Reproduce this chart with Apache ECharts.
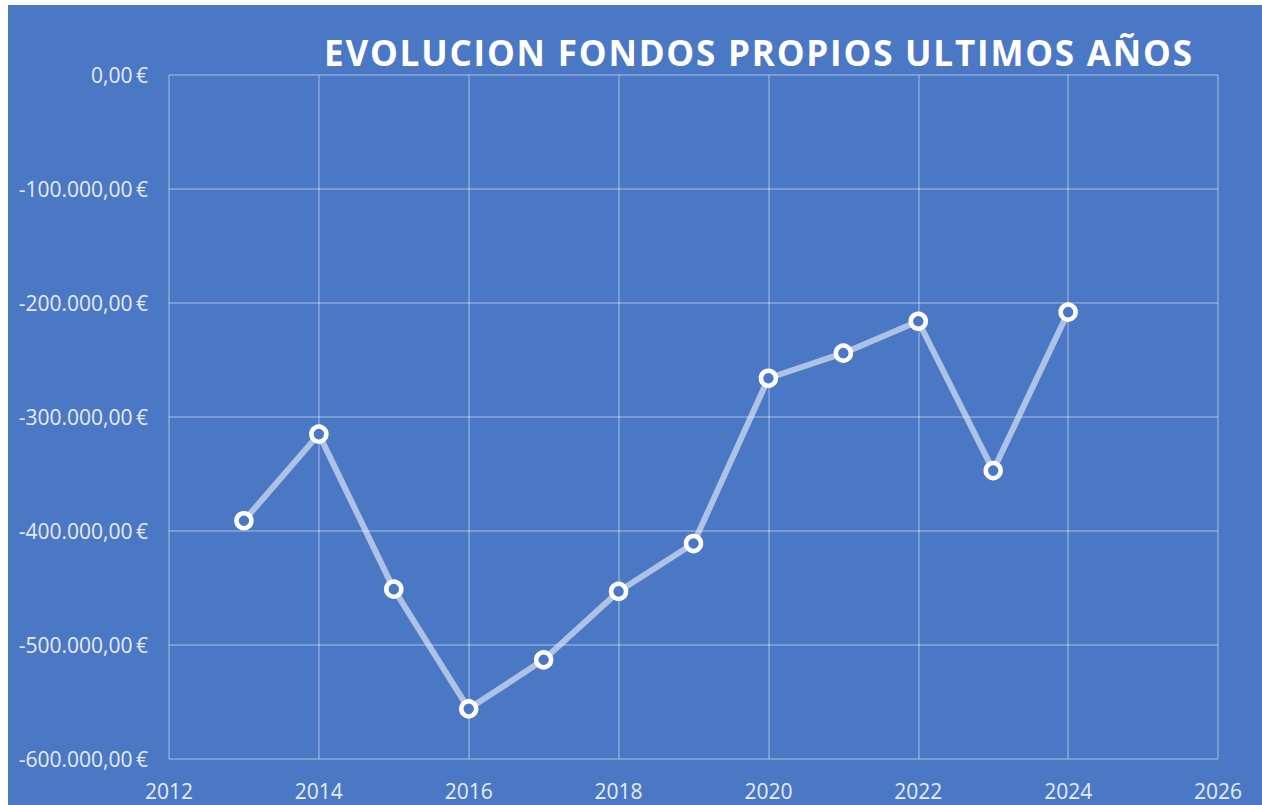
<!DOCTYPE html>
<html>
<head>
<meta charset="utf-8">
<script src="https://cdn.jsdelivr.net/npm/echarts@6/dist/echarts.min.js"></script>
<style>
html,body{margin:0;padding:0;background:#ffffff;}
#chart{position:absolute;left:8px;top:5px;width:1254px;height:800px;background:#4a78c5;}
#chart svg text[style*="TitleFace"]{letter-spacing:1.8px;}
</style>
</head>
<body>
<div id="chart"></div>
<script>
const titleText = 'EVOLUCION FONDOS PROPIOS ULTIMOS AÑOS';
const years = [2013, 2014, 2015, 2016, 2017, 2018, 2019, 2020, 2021, 2022, 2023, 2024];
const fondosPropios = [-391000, -315000, -451000, -556000, -513000, -453000, -411000, -266000, -244000, -216000, -347000, -208000];
const xMin = 2012, xMax = 2026, xStep = 2;
const yMin = -600000, yMax = 0, yStep = 100000;

function fmtEuro(v) {
  const neg = v < 0;
  const a = Math.abs(v);
  const intPart = Math.floor(a).toString().replace(/\B(?=(\d{3})+(?!\d))/g, '.');
  return (neg ? '-' : '') + intPart + ',00\u2009€';
}

const chart = echarts.init(document.getElementById('chart'), null, {renderer: 'svg'});
const labelColor = '#e6ecf7';
const gridColor = 'rgba(255,255,255,0.35)';
chart.setOption({
  backgroundColor: '#4a78c5',
  animation: false,
  title: {
    text: titleText,
    left: 311,
    top: 25,
    textStyle: {color: '#ffffff', fontSize: 35, fontWeight: 'bold', fontFamily: '"Open Sans", TitleFace'}
  },
  grid: {left: 161, right: 44, top: 70, bottom: 46, containLabel: false},
  xAxis: {
    type: 'value', min: xMin, max: xMax, interval: xStep,
    axisLine: {show: false}, axisTick: {show: false},
    splitLine: {show: true, lineStyle: {color: gridColor, width: 1.5}},
    axisLabel: {color: labelColor, fontSize: 21, fontFamily: 'Open Sans', margin: 21, formatter: v => String(v)}
  },
  yAxis: {
    type: 'value', min: yMin, max: yMax, interval: yStep,
    axisLine: {show: false}, axisTick: {show: false},
    splitLine: {show: true, lineStyle: {color: gridColor, width: 1.5}},
    axisLabel: {color: labelColor, fontSize: 21, fontFamily: 'Open Sans', margin: 21, formatter: fmtEuro}
  },
  series: [{
    type: 'line',
    data: years.map((y, i) => [y, fondosPropios[i]]),
    lineStyle: {color: 'rgba(255,255,255,0.55)', width: 6},
    symbol: 'circle',
    symbolSize: 15,
    itemStyle: {color: '#4a78c5', borderColor: '#ffffff', borderWidth: 4.5},
    z: 3
  }]
});
</script>
</body>
</html>
